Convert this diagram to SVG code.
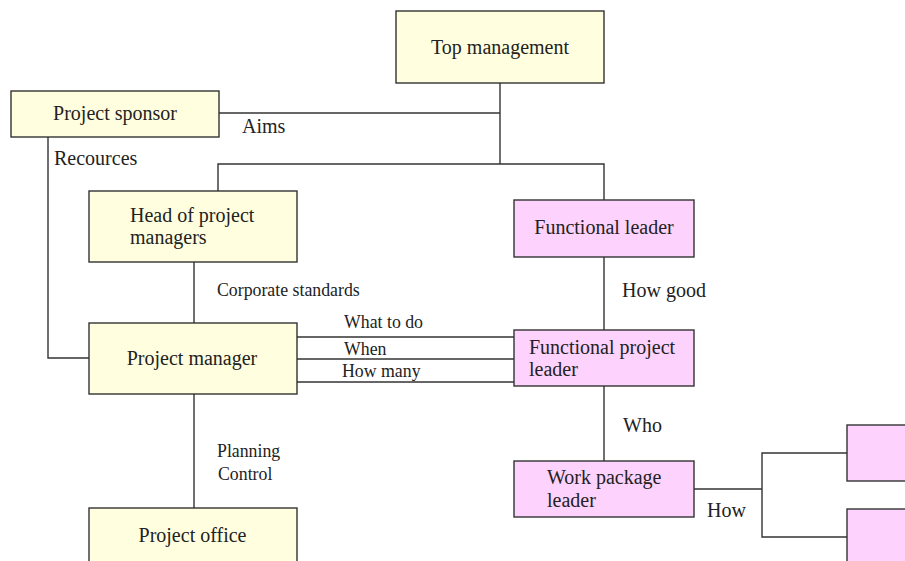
<svg xmlns="http://www.w3.org/2000/svg" width="905" height="561" viewBox="0 0 905 561">
<style>
.y{fill:#FFFFE0;stroke:#333;stroke-width:1.4}
.p{fill:#FDD2FD;stroke:#333;stroke-width:1.4}
.t{font-family:"Liberation Serif","Times New Roman",serif;font-size:20px;fill:#222}
.s{font-family:"Liberation Serif","Times New Roman",serif;font-size:17.8px;fill:#222}
.c{text-anchor:middle}
#connectors path{fill:none;stroke:#333;stroke-width:1.4}
</style>
<rect width="905" height="561" fill="#fff"/>
<g id="connectors">
<path d="M219,113H500"/>
<path d="M500,83V164"/>
<path d="M218,191V164H604V200"/>
<path d="M48,137V358H89"/>
<path d="M194,262V323"/>
<path d="M194,394V508"/>
<path d="M297,337H514"/>
<path d="M297,359H514"/>
<path d="M297,382H514"/>
<path d="M604,257V330"/>
<path d="M604,386V461"/>
<path d="M694,489H762"/>
<path d="M847,453H762V537H847"/>
<text class="t" x="242" y="133">Aims</text>
<text class="t" x="54" y="165">Recources</text>
<text class="s" x="217" y="296">Corporate standards</text>
<text class="s" x="344" y="328">What to do</text>
<text class="s" x="344" y="355">When</text>
<text class="s" x="342" y="377">How many</text>
<text class="s" x="217" y="457">Planning</text>
<text class="s" x="218" y="480">Control</text>
<text class="t" x="622" y="297">How good</text>
<text class="t" x="623" y="432">Who</text>
<text class="t" x="707" y="517">How</text>
</g>
<g id="top-management">
<rect class="y" x="396" y="11" width="208" height="72"/>
<text class="t c" x="500" y="54">Top management</text>
</g>
<g id="project-sponsor">
<rect class="y" x="11" y="91" width="208" height="46"/>
<text class="t c" x="115" y="120">Project sponsor</text>
</g>
<g id="head-of-project-managers">
<rect class="y" x="89" y="191" width="208" height="71"/>
<text class="t" x="130" y="222">Head of project</text>
<text class="t" x="130" y="244">managers</text>
</g>
<g id="project-manager">
<rect class="y" x="89" y="323" width="208" height="71"/>
<text class="t c" x="192" y="365">Project manager</text>
</g>
<g id="project-office">
<rect class="y" x="89" y="508" width="208" height="60"/>
<text class="t c" x="192.5" y="542">Project office</text>
</g>
<g id="functional-leader">
<rect class="p" x="514" y="200" width="180" height="57"/>
<text class="t c" x="604" y="234">Functional leader</text>
</g>
<g id="functional-project-leader">
<rect class="p" x="514" y="330" width="180" height="56"/>
<text class="t" x="529" y="354">Functional project</text>
<text class="t" x="529" y="376">leader</text>
</g>
<g id="work-package-leader">
<rect class="p" x="514" y="461" width="180" height="56"/>
<text class="t" x="547" y="484">Work package</text>
<text class="t" x="547" y="507">leader</text>
</g>
<g id="work-package-1">
<rect class="p" x="847" y="425" width="70" height="56"/>
</g>
<g id="work-package-2">
<rect class="p" x="847" y="509" width="70" height="60"/>
</g>
</svg>
